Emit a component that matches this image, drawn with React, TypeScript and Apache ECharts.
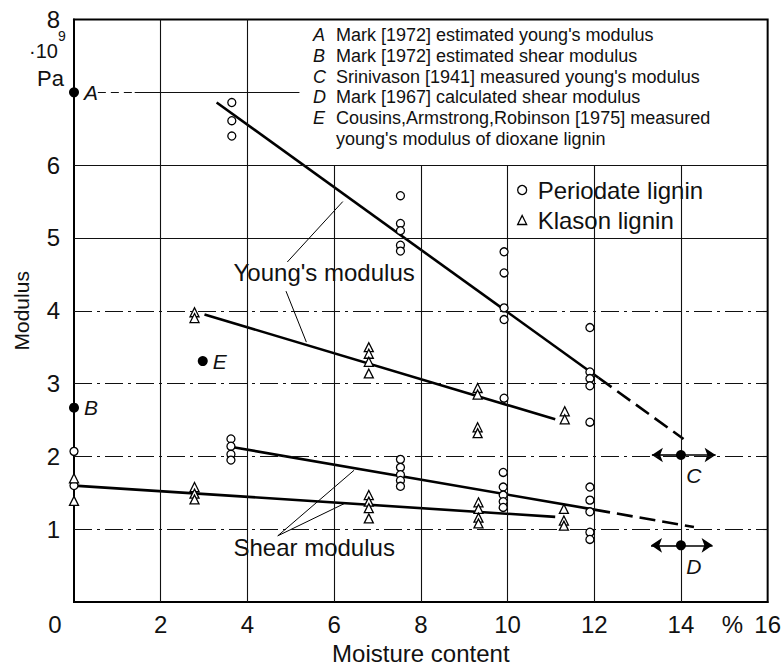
import React, { useEffect, useRef } from "react";
import * as echarts from "echarts";

const FONT = '"Liberation Sans", Arial, sans-serif';

// ---------- data (moisture content %, modulus 10^9 Pa) ----------
const youngPeriodate = [
  [3.64, 6.86], [3.64, 6.61], [3.64, 6.4],
  [7.53, 5.58], [7.53, 5.2], [7.53, 5.1], [7.53, 4.9], [7.53, 4.82],
  [9.92, 4.81], [9.92, 4.52], [9.92, 4.04], [9.92, 3.88], [9.92, 2.8],
  [11.9, 3.77], [11.9, 3.16], [11.9, 3.07], [11.9, 2.97], [11.9, 2.47],
];
const youngKlason = [
  [2.78, 3.98], [2.78, 3.9],
  [6.8, 3.5], [6.8, 3.41], [6.8, 3.3], [6.8, 3.14],
  [9.31, 2.94], [9.31, 2.85], [9.31, 2.4], [9.31, 2.32],
  [11.32, 2.62], [11.32, 2.51],
];
const shearPeriodate = [
  [0, 2.07], [0, 1.6],
  [3.62, 2.24], [3.62, 2.14], [3.62, 2.03], [3.62, 1.95],
  [7.53, 1.96], [7.53, 1.85], [7.53, 1.75], [7.53, 1.67], [7.53, 1.59],
  [9.9, 1.78], [9.9, 1.58], [9.9, 1.47], [9.9, 1.38], [9.9, 1.3],
  [11.9, 1.58], [11.9, 1.4], [11.9, 1.24], [11.9, 0.96], [11.9, 0.86],
];
const shearKlason = [
  [0, 1.7], [0, 1.39],
  [2.78, 1.58], [2.78, 1.49], [2.78, 1.41],
  [6.8, 1.47], [6.8, 1.38], [6.8, 1.29], [6.8, 1.15],
  [9.33, 1.37], [9.33, 1.28], [9.33, 1.16], [9.33, 1.08],
  [11.3, 1.28], [11.3, 1.12], [11.3, 1.05],
];

// fitted lines (solid) and their extrapolations (dashed)
const youngPeriodateFit = [[3.29, 6.86], [12.1, 3.08]];
const youngPeriodateExtrap = [[12.1, 3.08], [14.06, 2.24]];
const youngKlasonFit = [[3.01, 3.95], [11.1, 2.51]];
const shearPeriodateFit = [[3.64, 2.13], [12.0, 1.27]];
const shearPeriodateExtrap = [[12.0, 1.27], [14.3, 1.03]];
const shearKlasonFit = [[0, 1.6], [11.1, 1.17]];

// literature values A..E
const refLetters = ["A", "B", "C", "D", "E"];
const refX = [0, 0, 14.0, 14.0, 2.97];
const refY = [7.0, 2.67, 2.02, 0.78, 3.31];
// ranges shown with arrows for C and D: [y, from, to]
const rangeArrows = [
  [2.02, 14.0, 13.33], [2.02, 14.0, 14.8],
  [0.78, 14.0, 13.31], [0.78, 14.0, 14.73],
];

const noteLetters = ["A", "B", "C", "D", "E", ""];
const noteTexts = [
  "Mark [1972] estimated young's modulus",
  "Mark [1972] estimated shear modulus",
  "Srinivason [1941] measured young's modulus",
  "Mark [1967] calculated shear modulus",
  "Cousins,Armstrong,Robinson [1975] measured",
  "young's modulus of dioxane lignin",
];

const annotationTexts = ["Young's modulus", "Shear modulus"];
const annotationX = [5.77, 5.54];
const annotationY = [4.52, 0.745];
const leaders = [
  [[4.92, 4.67], [6.2, 5.5]],
  [[4.89, 4.27], [5.36, 3.57]],
  [[4.7, 0.91], [6.46, 1.81]],
  [[4.7, 0.91], [6.26, 1.36]],
];

// grid lines
const xGridFull = [2, 4];
const xGridLower = [6, 8, 10, 12, 14];
const yGridDashDot = [1, 2, 3, 4];
const yGridSolid = [5, 6];

export default function App() {
  const ref = useRef<HTMLDivElement>(null);

  useEffect(() => {
    if (!ref.current) return;
    const chart = echarts.init(ref.current, null, { renderer: "svg" });

    const solidGrid = { color: "#111", width: 1.1, type: "solid" };
    const dashDotGrid = { color: "#111", width: 1.1, type: [18, 5, 3, 5] };
    const dashedGrid = { color: "#111", width: 1.1, type: [8, 5] };

    const gridLines: any[] = [
      ...xGridFull.map((v) => ({ xAxis: v, lineStyle: solidGrid })),
      ...xGridLower.map((v) => [{ coord: [v, 0], lineStyle: solidGrid }, { coord: [v, 6] }]),
      ...yGridDashDot.map((v) => ({ yAxis: v, lineStyle: dashDotGrid })),
      ...yGridSolid.map((v) => ({ yAxis: v, lineStyle: solidGrid })),
      [{ coord: [0.55, 7], lineStyle: dashedGrid }, { coord: [1.4, 7] }],
      [{ coord: [1.4, 7], lineStyle: solidGrid }, { coord: [5.2, 7] }],
    ];

    const hollow = { color: "#fff", borderColor: "#000", borderWidth: 1.3, opacity: 1 };
    const fitLine = (data: number[][], dashed: boolean) => ({
      type: "line",
      data,
      symbol: "none",
      z: 3,
      silent: true,
      lineStyle: { color: "#000", width: 2.6, type: dashed ? [16, 7] : "solid" },
    });
    const scatter = (name: string, data: number[][], symbol: string, size: number) => ({
      type: "scatter",
      name,
      data,
      symbol,
      symbolSize: size,
      clip: false,
      z: 5,
      silent: true,
      emphasis: { disabled: true },
      itemStyle: hollow,
    });

    const textStyle = { fontFamily: FONT, color: "#111" };
    const noteTop = 35;
    const noteStep = 20.8;

    const option: any = {
      animation: false,
      grid: {
        left: 74,
        right: 13.5,
        top: 19.5,
        bottom: 60,
        show: true,
        borderColor: "#000",
        borderWidth: 2,
        backgroundColor: "transparent",
      },
      xAxis: {
        type: "value",
        min: 0,
        max: 16,
        interval: 1,
        axisLine: { lineStyle: { color: "#000", width: 2 } },
        axisTick: { show: false },
        splitLine: { show: false },
        axisLabel: {
          margin: 10,
          fontSize: 24,
          ...textStyle,
          formatter: (v: number) => {
            if (v === 0) return "{z|0}";
            if (v === 15) return "{p|%}";
            return v % 2 === 0 ? String(v) : "";
          },
          rich: {
            z: { fontSize: 24, fontFamily: FONT, color: "#111", padding: [0, 38, 0, 0] },
            p: { fontSize: 24, fontFamily: FONT, color: "#111", padding: [0, 0, 0, 16] },
          },
        },
        name: "Moisture content",
        nameLocation: "middle",
        nameGap: 34,
        nameTextStyle: { fontSize: 24, ...textStyle, verticalAlign: "top" },
      },
      yAxis: {
        type: "value",
        min: 0,
        max: 8,
        interval: 1,
        axisLine: { lineStyle: { color: "#000", width: 2 } },
        axisTick: { show: false },
        splitLine: { show: false },
        axisLabel: {
          margin: 14,
          fontSize: 24,
          ...textStyle,
          formatter: (v: number) => (v === 0 || v === 7 ? "" : String(v)),
        },
        name: "Modulus",
        nameLocation: "middle",
        nameGap: 42,
        nameRotate: 90,
        nameTextStyle: { fontSize: 21, ...textStyle },
      },
      legend: {
        left: 515,
        top: 176,
        orient: "vertical",
        itemWidth: 9,
        itemHeight: 9,
        itemGap: 6,
        padding: [2, 4, 2, 2],
        backgroundColor: "#fff",
        selectedMode: false,
        textStyle: { fontSize: 24, ...textStyle, padding: [0, 0, 0, 6] },
        data: [
          { name: "Periodate lignin", icon: "circle", itemStyle: hollow },
          { name: "Klason lignin", icon: "triangle", itemStyle: hollow },
        ],
      },
      graphic: [
        { type: "text", x: 29, y: 51, z: 10, style: { text: "·10", font: `20px ${FONT}`, fill: "#111", align: "left", verticalAlign: "middle" } },
        { type: "text", x: 58, y: 36, z: 10, style: { text: "9", font: `14px ${FONT}`, fill: "#111", align: "left", verticalAlign: "middle" } },
        { type: "text", x: 37, y: 78, z: 10, style: { text: "Pa", font: `22px ${FONT}`, fill: "#111", align: "left", verticalAlign: "middle" } },
        ...noteTexts.flatMap((t, i) => [
          { type: "text", x: 313, y: noteTop + i * noteStep, z: 10, style: { text: noteLetters[i], font: `italic 18px ${FONT}`, fill: "#111", align: "left", verticalAlign: "middle" } },
          { type: "text", x: 336, y: noteTop + i * noteStep, z: 10, style: { text: t, font: `18px ${FONT}`, fill: "#111", align: "left", verticalAlign: "middle" } },
        ]),
      ],
      series: [
        {
          type: "scatter",
          data: [],
          silent: true,
          z: 1,
          markLine: {
            silent: true,
            symbol: ["none", "none"],
            label: { show: false },
            emphasis: { disabled: true },
            data: gridLines,
          },
        },
        fitLine(youngPeriodateFit, false),
        fitLine(youngPeriodateExtrap, true),
        fitLine(youngKlasonFit, false),
        fitLine(shearPeriodateFit, false),
        fitLine(shearPeriodateExtrap, true),
        fitLine(shearKlasonFit, false),
        {
          type: "lines",
          coordinateSystem: "cartesian2d",
          silent: true,
          z: 3,
          symbol: ["none", "none"],
          lineStyle: { color: "#000", width: 1, opacity: 1 },
          data: leaders.map((c) => ({ coords: c })),
        },
        {
          type: "lines",
          coordinateSystem: "cartesian2d",
          silent: true,
          z: 3,
          symbol: ["none", "arrow"],
          symbolSize: 11,
          lineStyle: { color: "#000", width: 1.6, opacity: 1 },
          data: rangeArrows.map((r) => ({ coords: [[r[1], r[0]], [r[2], r[0]]] })),
        },
        scatter("Periodate lignin", youngPeriodate, "circle", 8),
        scatter("Periodate lignin", shearPeriodate, "circle", 8),
        scatter("Klason lignin", youngKlason, "triangle", 9),
        scatter("Klason lignin", shearKlason, "triangle", 9),
        {
          type: "scatter",
          name: "refs",
          symbol: "circle",
          symbolSize: 10,
          clip: false,
          z: 6,
          silent: true,
          emphasis: { disabled: true },
          itemStyle: { color: "#000", opacity: 1 },
          data: refLetters.map((l, i) => ({
            name: l,
            value: [refX[i], refY[i]],
            label:
              l === "C" || l === "D"
                ? { position: "inside", offset: [13, 21] }
                : { position: "right", distance: 5 },
          })),
          label: {
            show: true,
            formatter: "{b}",
            fontSize: 21,
            fontStyle: "italic",
            ...textStyle,
          },
        },
        {
          type: "scatter",
          name: "annotations",
          symbol: "circle",
          symbolSize: 1,
          clip: false,
          z: 6,
          silent: true,
          emphasis: { disabled: true },
          itemStyle: { color: "transparent", opacity: 1 },
          data: annotationTexts.map((t, i) => ({ name: t, value: [annotationX[i], annotationY[i]] })),
          label: {
            show: true,
            position: "inside",
            formatter: "{b}",
            fontSize: 24,
            ...textStyle,
          },
        },
      ],
    };

    chart.setOption(option);
    return () => chart.dispose();
  }, []);

  return (
    <div
      ref={ref}
      style={{ position: "fixed", left: 0, top: 0, width: 784, height: 670, background: "#fff" }}
    />
  );
}
